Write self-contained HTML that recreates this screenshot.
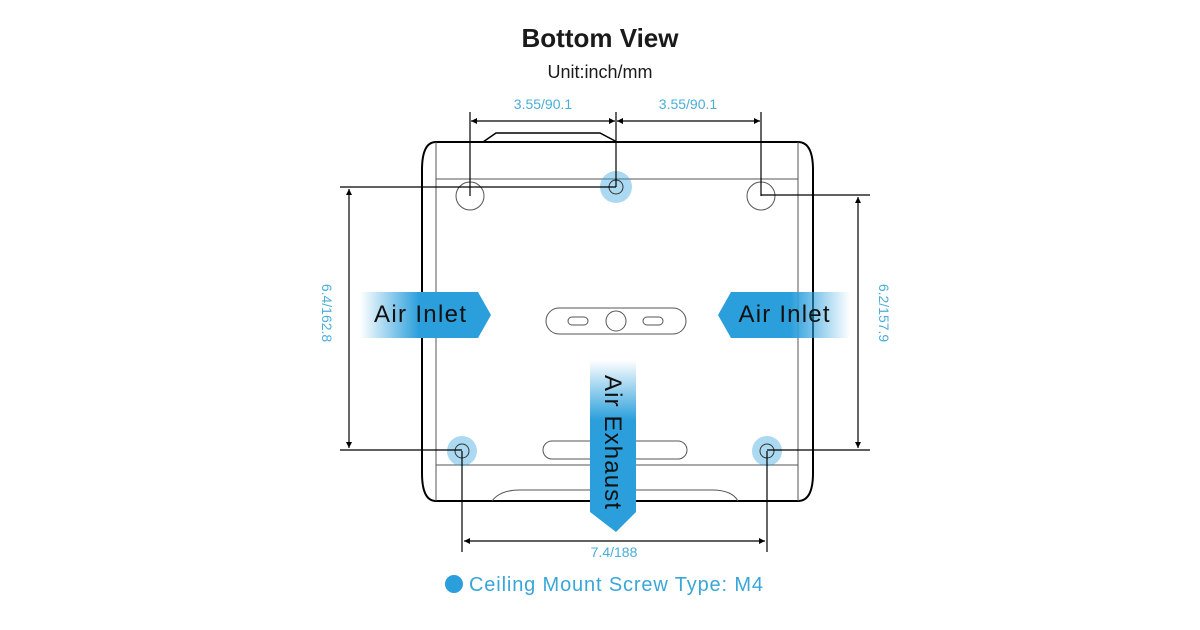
<!DOCTYPE html>
<html><head><meta charset="utf-8"><style>
html,body{margin:0;padding:0;background:#fff;width:1200px;height:630px;overflow:hidden}
svg{display:block}
text{font-family:"Liberation Sans",sans-serif}
</style></head><body>
<svg width="1200" height="630" viewBox="0 0 1200 630" xmlns="http://www.w3.org/2000/svg">
<defs>
<linearGradient id="gl" x1="0" x2="1" y1="0" y2="0"><stop offset="0" stop-color="#2b9fdc" stop-opacity="0"/><stop offset="0.45" stop-color="#2b9fdc"/><stop offset="1" stop-color="#2b9fdc"/></linearGradient>
<linearGradient id="gr" x1="1" x2="0" y1="0" y2="0"><stop offset="0" stop-color="#2b9fdc" stop-opacity="0"/><stop offset="0.45" stop-color="#2b9fdc"/><stop offset="1" stop-color="#2b9fdc"/></linearGradient>
<linearGradient id="gd" x1="0" x2="0" y1="0" y2="1"><stop offset="0" stop-color="#2b9fdc" stop-opacity="0"/><stop offset="0.35" stop-color="#2b9fdc"/><stop offset="1" stop-color="#2b9fdc"/></linearGradient>
<marker id="ar" viewBox="0 0 10 10" refX="10" refY="5" markerWidth="8" markerHeight="6" orient="auto-start-reverse" markerUnits="userSpaceOnUse"><path d="M0,0 L10,5 L0,10 z" fill="#000"/></marker>
</defs>

<text x="600" y="47" text-anchor="middle" font-size="26" font-weight="bold" fill="#1a1a1a">Bottom View</text>
<text x="600" y="78" text-anchor="middle" font-size="18" fill="#1a1a1a">Unit:inch/mm</text>

<!-- body -->
<path d="M483,142 L496,133 L600,133 L617,142 Z" fill="none" stroke="#000" stroke-width="1.5"/>
<path d="M436,142 L798,142 Q813,142 813,170 L813,473 Q813,501 798,501 L436,501 Q422,501 422,473 L422,170 Q422,142 436,142 Z" fill="none" stroke="#000" stroke-width="2"/>
<g stroke="#555" stroke-width="1" fill="none">
<line x1="436" y1="142" x2="436" y2="501"/><line x1="798" y1="142" x2="798" y2="501"/>
<line x1="436" y1="179" x2="798" y2="179"/><line x1="436" y1="465" x2="798" y2="465"/>
<rect x="546" y="308" width="140" height="26" rx="13"/>
<circle cx="616" cy="321" r="10"/>
<rect x="568" y="317" width="20" height="8" rx="4"/><rect x="643" y="317" width="20" height="8" rx="4"/>
<rect x="543" y="441" width="144" height="18" rx="9"/>
<path d="M492,501 Q500,490 520,490 L712,490 Q732,490 738,501"/>
<circle cx="470" cy="196" r="14"/><circle cx="761" cy="196" r="14"/>
</g>
<g fill="#2b9fdc" fill-opacity="0.4">
<circle cx="616" cy="187" r="16"/><circle cx="462" cy="451" r="15"/><circle cx="767" cy="451" r="15"/>
</g>
<g stroke="#333" fill="none" stroke-width="1">
<circle cx="616" cy="187" r="7"/><circle cx="462" cy="451" r="7"/><circle cx="767" cy="451" r="7"/>
</g>

<g stroke="#000" stroke-width="1.2" fill="none">
<line x1="470" y1="112" x2="470" y2="196"/><line x1="616" y1="112" x2="616" y2="187"/><line x1="761" y1="112" x2="761" y2="196"/>
<line x1="471" y1="121" x2="615" y2="121" marker-start="url(#ar)" marker-end="url(#ar)"/>
<line x1="617" y1="121" x2="760" y2="121" marker-start="url(#ar)" marker-end="url(#ar)"/>
<line x1="340" y1="187" x2="616" y2="187"/><line x1="340" y1="450" x2="462" y2="450"/>
<line x1="349" y1="189" x2="349" y2="448" marker-start="url(#ar)" marker-end="url(#ar)"/>
<line x1="761" y1="195" x2="870" y2="195"/><line x1="767" y1="450" x2="870" y2="450"/>
<line x1="858" y1="197" x2="858" y2="448" marker-start="url(#ar)" marker-end="url(#ar)"/>
<line x1="462" y1="451" x2="462" y2="552"/><line x1="767" y1="451" x2="767" y2="552"/>
<line x1="464" y1="541" x2="765" y2="541" marker-start="url(#ar)" marker-end="url(#ar)"/>
</g>
<g fill="#4aaed8" font-size="14">
<text x="543" y="109" text-anchor="middle">3.55/90.1</text>
<text x="688" y="109" text-anchor="middle">3.55/90.1</text>
<text x="614" y="557" text-anchor="middle">7.4/188</text>
<text transform="translate(322,313) rotate(90)" text-anchor="middle">6.4/162.8</text>
<text transform="translate(879,313) rotate(90)" text-anchor="middle">6.2/157.9</text>
</g>

<path d="M360,292 L478,292 L491,315 L478,338 L360,338 Z" fill="url(#gl)"/>
<text x="420" y="322" text-anchor="middle" font-size="24" fill="#111" textLength="92">Air Inlet</text>
<path d="M850,292 L731,292 L718,315 L731,338 L850,338 Z" fill="url(#gr)"/>
<text x="784" y="322" text-anchor="middle" font-size="24" fill="#111" textLength="91">Air Inlet</text>
<path d="M590,360 L636,360 L636,512 L616,532 L590,512 Z" fill="url(#gd)"/>
<text transform="translate(605,442) rotate(90)" text-anchor="middle" font-size="24" fill="#111" textLength="134">Air Exhaust</text>

<circle cx="454" cy="584" r="9" fill="#2b9fdc"/>
<text x="469" y="591" font-size="20" fill="#3aa6d8" textLength="294">Ceiling Mount Screw Type: M4</text>
</svg>
</body></html>
